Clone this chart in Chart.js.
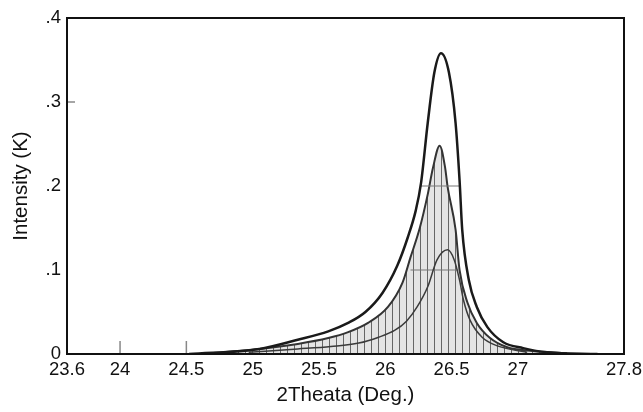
<!DOCTYPE html>
<html lang="en">
<head>
    <meta charset="UTF-8">
    <title>XRD Peak</title>
    <script src="https://cdn.jsdelivr.net/npm/chart.js"></script>
    <style>
        body { margin: 0; background: #fff; }
        #wrap { width: 643px; height: 412px; }
    </style>
</head>
<body>
    <div id="wrap"><canvas id="peakChart" width="643" height="412"></canvas></div>
    <script>
        // tick positions on the 2Theta axis
        const xTicks = [23.6, 24, 24.5, 25, 25.5, 26, 26.5, 27, 27.8];
        const yTicks = [0, 0.1, 0.2, 0.3, 0.4];

        // outer envelope (total)
        const totalX = [24.52, 25.05, 25.34, 25.57, 25.72, 25.85, 25.98, 26.09, 26.17, 26.23, 26.27, 26.32, 26.37, 26.42, 26.48, 26.53, 26.56, 26.58, 26.63, 26.69, 26.77, 26.89, 27.04, 27.22, 27.6];
        const totalY = [0, 0.006, 0.017, 0.027, 0.037, 0.050, 0.073, 0.105, 0.139, 0.171, 0.204, 0.275, 0.335, 0.358, 0.335, 0.275, 0.207, 0.148, 0.088, 0.056, 0.032, 0.014, 0.007, 0.002, 0];

        // shaded component
        const mainX = [24.6, 25.05, 25.34, 25.57, 25.72, 25.87, 26.02, 26.13, 26.19, 26.26, 26.32, 26.36, 26.41, 26.45, 26.47, 26.53, 26.56, 26.62, 26.69, 26.79, 26.92, 27.09, 27.37];
        const mainY = [0, 0.006, 0.012, 0.019, 0.026, 0.037, 0.056, 0.085, 0.115, 0.150, 0.190, 0.222, 0.248, 0.223, 0.199, 0.148, 0.100, 0.061, 0.037, 0.019, 0.008, 0.004, 0.001];

        // small component
        const smallX = [24.97, 25.34, 25.59, 25.8, 25.95, 26.07, 26.16, 26.24, 26.32, 26.39, 26.47, 26.52, 26.56, 26.59, 26.64, 26.73, 26.84, 27.07];
        const smallY = [0.002, 0.006, 0.009, 0.013, 0.020, 0.028, 0.039, 0.056, 0.080, 0.112, 0.124, 0.112, 0.088, 0.064, 0.040, 0.020, 0.010, 0.002];

        // half-height markers
        const upperBarX = [26.265, 26.557];
        const upperBarY = [0.2, 0.2];
        const lowerBarX = [26.19, 26.55];
        const lowerBarY = [0.1, 0.1];

        // inner tick marks
        const xMarks = [24, 24.5];
        const yMarks = [0.3];

        const pts = (xs, ys) => xs.map((x, i) => ({ x, y: ys[i] }));

        // vertical hatch pattern for the shaded peak
        const pc = document.createElement('canvas');
        pc.width = 7; pc.height = 4;
        const pctx = pc.getContext('2d');
        pctx.fillStyle = '#e4e4e4';
        pctx.fillRect(0, 0, 7, 4);
        pctx.fillStyle = '#666';
        pctx.fillRect(0, 0, 1, 4);

        const ctx = document.getElementById('peakChart').getContext('2d');
        const hatch = ctx.createPattern(pc, 'repeat');

        const frame = {
            id: 'frame',
            afterDatasetsDraw(chart) {
                const { ctx, chartArea: a, scales } = chart;
                ctx.save();
                ctx.strokeStyle = '#888';
                ctx.lineWidth = 1.5;
                xMarks.forEach(v => {
                    const px = scales.x.getPixelForValue(v);
                    ctx.beginPath();
                    ctx.moveTo(px, a.bottom);
                    ctx.lineTo(px, a.bottom - 13);
                    ctx.stroke();
                });
                yMarks.forEach(v => {
                    const py = scales.y.getPixelForValue(v);
                    ctx.beginPath();
                    ctx.moveTo(a.left, py);
                    ctx.lineTo(a.left + 8, py);
                    ctx.stroke();
                });
                ctx.strokeStyle = '#111';
                ctx.lineWidth = 2;
                ctx.strokeRect(a.left, a.top, a.right - a.left, a.bottom - a.top);
                ctx.restore();
            }
        };

        new Chart(ctx, {
            type: 'line',
            data: {
                datasets: [
                    {
                        label: 'Total',
                        data: pts(totalX, totalY),
                        borderColor: '#1a1a1a',
                        borderWidth: 2.5,
                        fill: false,
                        order: 1
                    },
                    {
                        label: 'Small',
                        data: pts(smallX, smallY),
                        borderColor: '#3a3a3a',
                        borderWidth: 1.5,
                        fill: false,
                        order: 2
                    },
                    {
                        label: 'Upper',
                        data: pts(upperBarX, upperBarY),
                        borderColor: '#777',
                        borderWidth: 1.2,
                        fill: false,
                        tension: 0,
                        order: 3
                    },
                    {
                        label: 'Lower',
                        data: pts(lowerBarX, lowerBarY),
                        borderColor: '#777',
                        borderWidth: 1.2,
                        fill: false,
                        tension: 0,
                        order: 3
                    },
                    {
                        label: 'Main',
                        data: pts(mainX, mainY),
                        borderColor: '#333',
                        borderWidth: 2,
                        backgroundColor: hatch,
                        fill: 'origin',
                        order: 4
                    }
                ]
            },
            options: {
                responsive: false,
                animation: false,
                layout: { padding: { top: 18, right: 0, bottom: 0, left: 0 } },
                elements: {
                    point: { radius: 0 },
                    line: { cubicInterpolationMode: 'monotone' }
                },
                plugins: {
                    legend: { display: false },
                    tooltip: { enabled: false }
                },
                scales: {
                    x: {
                        type: 'linear',
                        min: 23.6,
                        max: 27.8,
                        afterBuildTicks: s => { s.ticks = xTicks.map(v => ({ value: v })); },
                        afterFit: s => { s.height = 58; s.paddingRight = 19; },
                        grid: { display: false, drawTicks: false },
                        border: { color: '#111', width: 2 },
                        ticks: {
                            color: '#111',
                            padding: 5,
                            maxRotation: 0,
                            font: { family: 'Liberation Sans, Arial', size: 18.5 },
                            callback: v => String(v)
                        },
                        title: {
                            display: true,
                            text: '2Theata (Deg.)',
                            color: '#111',
                            padding: { top: 2 },
                            font: { family: 'Liberation Sans, Arial', size: 20.5 }
                        }
                    },
                    y: {
                        min: 0,
                        max: 0.4,
                        afterBuildTicks: s => { s.ticks = yTicks.map(v => ({ value: v })); },
                        afterFit: s => { s.width = 67; },
                        grid: { display: false, drawTicks: false },
                        border: { color: '#111', width: 2 },
                        ticks: {
                            color: '#111',
                            padding: 6,
                            font: { family: 'Liberation Sans, Arial', size: 18.5 },
                            callback: v => v === 0 ? '0' : v.toFixed(1).replace('0.', '.')
                        },
                        title: {
                            display: true,
                            text: 'Intensity (K)',
                            color: '#111',
                            padding: { top: 9, bottom: 2 },
                            font: { family: 'Liberation Sans, Arial', size: 20.5 }
                        }
                    }
                }
            },
            plugins: [frame]
        });
    </script>
</body>
</html>
